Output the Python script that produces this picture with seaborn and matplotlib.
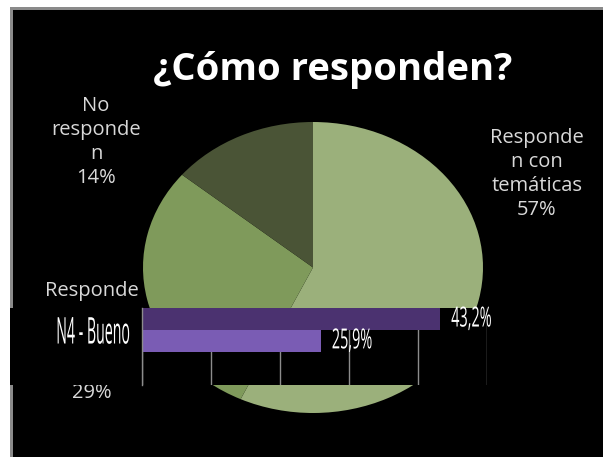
import matplotlib
matplotlib.use("Agg")
import matplotlib.pyplot as plt
import pandas as pd
import seaborn as sns
from matplotlib.patches import Rectangle
from matplotlib.patheffects import AbstractPathEffect
from matplotlib.transforms import Affine2D

# ---- pie: how students answer ----
pie_names = ["Responde\nn con\ntemáticas", "Responde", "No\nresponde\nn"]
pie_values = [57, 29, 14]
pie_colors = ["#9bb07b", "#7f9a5b", "#4a5436"]

# ---- inset bar chart ----
bar_categories = ["N4 - Bueno", "N4 - Bueno"]
bar_series = ["Serie 1", "Serie 2"]
bar_values = [43.2, 25.9]
bar_colors = ["#4b3270", "#7a5cb4"]
bar_ticks = [0, 10, 20, 30, 40, 50]

title = "¿Cómo responden?"

W, H = 603, 457


def fx(px):
    return px / W


def fy(py):
    return 1 - py / H


def box(x0, y0, x1, y1):
    return [fx(x0), fy(y1), (x1 - x0) / W, (y1 - y0) / H]


class Stretch(AbstractPathEffect):
    """Draw glyphs taller than their nominal size, around their vertical middle."""

    def __init__(self, sy):
        super().__init__()
        self.sy = sy

    def draw_path(self, renderer, gc, tpath, affine, rgbFace=None):
        ext = tpath.get_extents()
        oy = ext.y0 + 0.5 * ext.height
        t = Affine2D().translate(0, -oy).scale(1, self.sy).translate(0, oy)
        renderer.draw_path(gc, tpath, t + affine, rgbFace)


sns.set_style("white")
plt.rcParams["font.family"] = ["Open Sans", "DejaVu Sans"]

fig = plt.figure(figsize=(W / 100, H / 100), dpi=100)
fig.patch.set_facecolor("white")
fig.patches.extend([
    Rectangle((fx(10), 0), 1 - fx(10), fy(7), transform=fig.transFigure,
              facecolor="#8a8a8a", edgecolor="none", zorder=-10),
    Rectangle((fx(13), 0), 1 - fx(13), fy(9.5), transform=fig.transFigure,
              facecolor="black", edgecolor="none", zorder=-9),
])

# title
fig.text(fx(333), fy(70), title, ha="center", va="center", color="white",
         fontsize=27.5, fontweight="bold")

# pie (slightly elliptical)
axp = fig.add_axes(box(143, 122, 483, 413))
axp.pie(pie_values, colors=pie_colors, startangle=90, counterclock=False,
        radius=1, wedgeprops=dict(linewidth=0))
axp.set_xlim(-1, 1)
axp.set_ylim(-1, 1)
axp.set_aspect("auto")
axp.axis("off")

label_style = dict(transform=fig.transFigure, ha="center", va="center",
                   color="#d9d9d9", fontsize=14.5, linespacing=1.28, clip_on=False)
# slices with name and percentage in one block
axp.text(fx(537), fy(174), f"{pie_names[0]}\n{pie_values[0]}%", **label_style)
axp.text(fx(96), fy(142), f"{pie_names[2]}\n{pie_values[2]}%", **label_style)
# the middle slice's label sits partly behind the inset chart
axp.text(fx(92), fy(291), pie_names[1], **label_style)
axp.text(fx(92), fy(393), f"{pie_values[1]}%", **label_style)

# inset background
axbg = fig.add_axes(box(10, 308, 492, 385))
axbg.set_facecolor("black")
axbg.set_xticks([])
axbg.set_yticks([])
for s in axbg.spines.values():
    s.set_visible(False)

# inset bars
df = pd.DataFrame({"categoria": bar_categories, "serie": bar_series, "valor": bar_values})
axb = fig.add_axes(box(142, 308, 487, 385))
axb.set_facecolor("none")
sns.barplot(data=df, x="valor", y="categoria", hue="serie", palette=bar_colors,
            width=0.56, saturation=1, legend=False, ax=axb, edgecolor="none")
axb.set_xlim(0, 50)
axb.set_ylim(0.705, -0.282)
axb.set_xticks(bar_ticks)
axb.set_xticklabels([])
axb.tick_params(axis="x", length=0)
axb.xaxis.grid(True, color="#8c8c8c", linewidth=1)
axb.yaxis.grid(False)
axb.set_axisbelow(True)
axb.set_xlabel("")
axb.set_ylabel("")
for side in ["top", "right", "bottom"]:
    axb.spines[side].set_visible(False)
axb.spines["left"].set_color("#8c8c8c")
axb.spines["left"].set_linewidth(1)
axb.set_yticks([0])
axb.set_yticklabels([bar_categories[0]])
axb.tick_params(axis="y", which="major", length=0, pad=9, labelsize=10.2,
                labelcolor="white")
axb.set_yticks([0.5], minor=True)
axb.tick_params(axis="y", which="minor", length=4, color="#8c8c8c", width=1)
for lab in axb.get_yticklabels():
    lab.set_path_effects([Stretch(2.6)])

for cont, v in zip(axb.containers, bar_values):
    texts = axb.bar_label(cont, labels=[f"{v:.1f}".replace(".", ",") + "%"],
                          padding=8, color="white", fontsize=10.4)
    for t in texts:
        t.set_path_effects([Stretch(1.92)])

fig.savefig("out.png", dpi=100, facecolor="white")
